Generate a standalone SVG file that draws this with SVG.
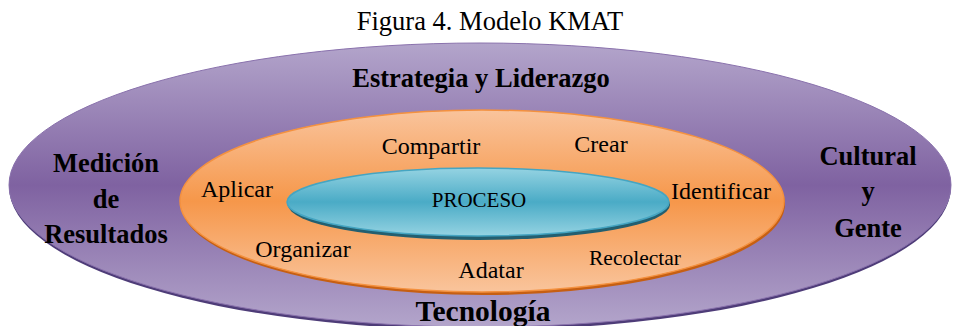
<svg xmlns="http://www.w3.org/2000/svg" width="959" height="326" viewBox="0 0 959 326">
<defs>
<linearGradient id="gPurple" x1="0" y1="0" x2="0" y2="1">
<stop offset="0" stop-color="#b3a5cb"/>
<stop offset="0.5" stop-color="#7f62a1"/>
<stop offset="1" stop-color="#b3a5cb"/>
</linearGradient>
<linearGradient id="gOrange" x1="0" y1="0" x2="0" y2="1">
<stop offset="0" stop-color="#f9c49c"/>
<stop offset="0.5" stop-color="#f6974a"/>
<stop offset="1" stop-color="#f9c49c"/>
</linearGradient>
<linearGradient id="gBlue" x1="0" y1="0" x2="0" y2="1">
<stop offset="0" stop-color="#95d3e2"/>
<stop offset="0.5" stop-color="#4aabc6"/>
<stop offset="1" stop-color="#95d3e2"/>
</linearGradient>
<style>
.t{font-family:"Liberation Serif","Times New Roman",serif;fill:#000;text-anchor:middle}
.b{font-weight:bold;font-size:26.5px}
.m{font-size:24px}
</style>
</defs>
<rect width="959" height="326" fill="#ffffff"/>
<text class="t" x="490" y="30" font-size="26.5">Figura 4. Modelo KMAT</text>
<g id="outer">
<ellipse cx="480" cy="187" rx="471" ry="143" fill="#4e3c78"/>
<ellipse cx="480" cy="185" rx="471" ry="142" fill="url(#gPurple)" stroke="#8a72ad" stroke-width="1"/>
<text class="t b" x="481" y="87">Estrategia y Liderazgo</text>
<text class="t b" x="106" y="172">Medición</text>
<text class="t b" x="106" y="208">de</text>
<text class="t b" x="106" y="243">Resultados</text>
<text class="t b" x="868" y="165">Cultural</text>
<text class="t b" x="868" y="200">y</text>
<text class="t b" x="868" y="237">Gente</text>
<text class="t" x="483" y="321" font-size="29.5" font-weight="bold">Tecnología</text>
</g>
<g id="middle">
<ellipse cx="483" cy="204" rx="302" ry="91" fill="#c65f12"/>
<ellipse cx="482" cy="201" rx="302" ry="91" fill="url(#gOrange)" stroke="#f4913f" stroke-width="1.5"/>
<text class="t m" x="431" y="154">Compartir</text>
<text class="t m" x="601" y="152">Crear</text>
<text class="t m" x="237" y="197">Aplicar</text>
<text class="t m" x="721" y="199">Identificar</text>
<text class="t m" x="303" y="257">Organizar</text>
<text class="t m" x="491" y="278">Adatar</text>
<text class="t" x="635" y="265" font-size="21.5">Recolectar</text>
</g>
<g id="proceso">
<ellipse cx="479" cy="205" rx="191" ry="35" fill="#235f70"/>
<ellipse cx="478" cy="202" rx="191" ry="34" fill="url(#gBlue)" stroke="#45a5c2" stroke-width="1.5"/>
<text class="t" x="479" y="207" font-size="21">PROCESO</text>
</g>
<g id="connectors"></g>
</svg>
